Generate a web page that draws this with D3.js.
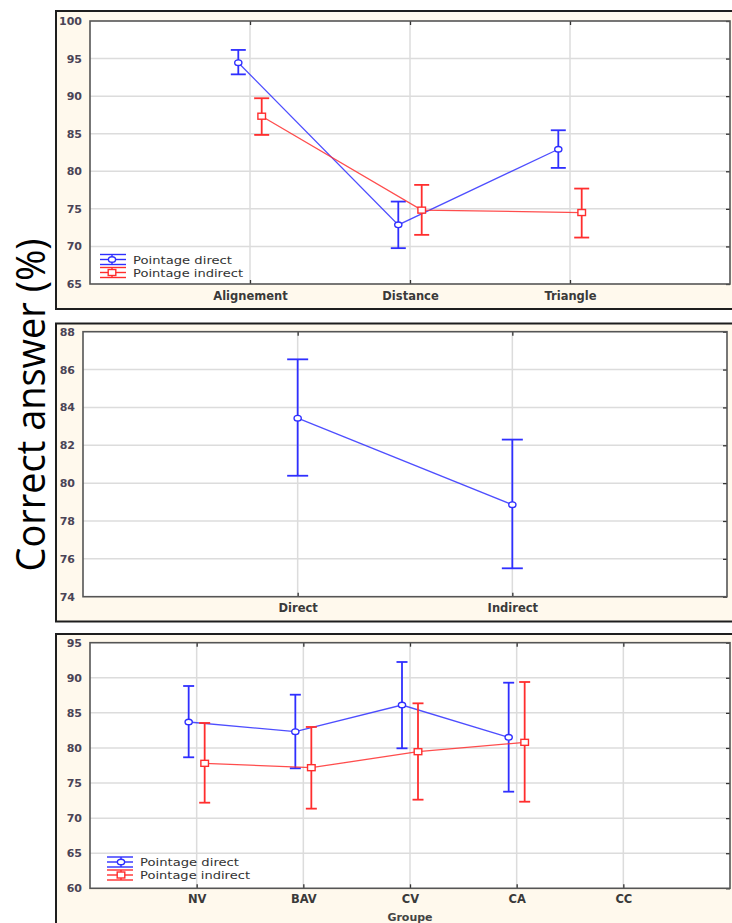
<!DOCTYPE html>
<html><head><meta charset="utf-8">
<script src="https://cdn.jsdelivr.net/npm/d3@7/dist/d3.min.js"></script>
<style>
html,body{margin:0;padding:0;background:#fff;overflow:hidden;}
svg{display:block;}
</style></head>
<body>
<svg id="chart" width="732" height="923"></svg>
<script>
// ---- data ----
const conditions = ["Alignement", "Distance", "Triangle"];
const condDirectMean = [94.45, 72.87, 82.93];
const condDirectLow  = [92.9, 69.77, 80.45];
const condDirectHigh = [96.15, 75.97, 85.46];
const condIndirectMean = [87.33, 74.83, 74.51];
const condIndirectLow  = [84.84, 71.54, 71.18];
const condIndirectHigh = [89.72, 78.19, 77.7];
const condTicks = [65, 70, 75, 80, 85, 90, 95, 100];

const pointing = ["Direct", "Indirect"];
const pointMean = [83.43, 78.86];
const pointLow  = [80.39, 75.5];
const pointHigh = [86.54, 82.3];
const pointTicks = [74, 76, 78, 80, 82, 84, 86, 88];

const groups = ["NV", "BAV", "CV", "CA", "CC"];
const groupDirectMean = [83.7, 82.32, 86.12, 81.51];
const groupDirectLow  = [78.67, 77.1, 79.95, 73.77];
const groupDirectHigh = [88.83, 87.59, 92.25, 89.3];
const groupIndirectMean = [77.81, 77.19, 79.47, 80.8];
const groupIndirectLow  = [72.2, 71.35, 72.63, 72.34];
const groupIndirectHigh = [83.56, 82.99, 86.36, 89.4];
const groupTicks = [60, 65, 70, 75, 80, 85, 90, 95];

const seriesNames = ["Pointage direct", "Pointage indirect"];
const yLabel = "Correct answer (%)";
const xTitle3 = "Groupe";

// ---- style ----
const BLUE = "#2f2fff", RED = "#ff2e2e";
const CREAM = "#fff9ed";
const TICKCOL = "#4a4456";
const svg = d3.select("#chart");

function series(cats, mean, low, high, color, marker, offset) {
  return {cats, mean, low, high, color, marker, offset};
}

function panel(o) {
  // outer frame
  svg.append("rect").attr("x", 56).attr("y", o.frameTop).attr("width", 700).attr("height", o.frameBottom - o.frameTop)
    .attr("fill", CREAM).attr("stroke", "#1e1e1e").attr("stroke-width", 2);
  const x = d3.scalePoint().domain(o.cats).range([o.left, o.right]).padding(1);
  const y = d3.scaleLinear().domain(d3.extent(o.ticks)).range([o.bottom, o.top]);
  const g = svg.append("g");
  g.append("rect").attr("x", o.left).attr("y", o.top).attr("width", o.right - o.left).attr("height", o.bottom - o.top)
    .attr("fill", "#fff");
  // grid
  g.selectAll(".gy").data(o.ticks.slice(1, -1)).join("line")
    .attr("x1", o.left).attr("x2", o.right).attr("y1", d => y(d)).attr("y2", d => y(d))
    .attr("stroke", "#dcdcdc").attr("stroke-width", 1.5);
  g.selectAll(".gx").data(o.cats).join("line")
    .attr("x1", d => x(d)).attr("x2", d => x(d)).attr("y1", o.top).attr("y2", o.bottom)
    .attr("stroke", "#dcdcdc").attr("stroke-width", 1.5);
  // axes via d3 axis (ticks inward)
  const gb = g.append("g").attr("transform", `translate(0,${o.bottom})`).call(d3.axisTop(x).tickSize(4).tickFormat(""));
  const gt = g.append("g").attr("transform", `translate(0,${o.top})`).call(d3.axisBottom(x).tickSize(4).tickFormat(""));
  const gr = g.append("g").attr("transform", `translate(${o.right},0)`).call(d3.axisLeft(y).tickValues(o.ticks).tickSize(4).tickFormat(""));
  [gb, gt, gr].forEach(a => { a.select(".domain").remove(); a.selectAll("line").attr("stroke", "#333").attr("stroke-width", 1.3); });
  // y tick labels
  const gl = g.append("g").attr("transform", `translate(${o.labelRight},0)`)
    .call(d3.axisLeft(y).tickValues(o.ticks).tickSize(0).tickPadding(0));
  gl.select(".domain").remove();
  gl.selectAll("text").attr("font-family", "DejaVu Sans").attr("font-weight", "bold").attr("font-size", 11)
    .attr("fill", TICKCOL);
  // x tick labels
  const gxl = g.append("g").attr("transform", `translate(0,${o.xLabelY})`)
    .call(d3.axisBottom(x).tickSize(0).tickPadding(0));
  gxl.select(".domain").remove();
  gxl.selectAll("text").attr("dy", 0).attr("font-family", "DejaVu Sans").attr("font-weight", "bold").attr("font-size", 11.5)
    .attr("fill", "#3a3a3a");
  // plot border
  g.append("rect").attr("x", o.left).attr("y", o.top).attr("width", o.right - o.left).attr("height", o.bottom - o.top)
    .attr("fill", "none").attr("stroke", "#555").attr("stroke-width", 1.6);

  o.series.forEach(s => {
    const pts = s.mean.map((m, i) => ({c: s.cats[i], m, lo: s.low[i], hi: s.high[i]}));
    const px = d => x(d.c) + s.offset;
    const line = d3.line().x(px).y(d => y(d.m));
    g.append("path").datum(pts).attr("d", line).attr("fill", "none").attr("stroke", s.color).attr("stroke-width", 1.3).attr("opacity", 0.85);
    const eb = g.append("g").attr("stroke", s.color).attr("stroke-width", 1.8);
    eb.selectAll(".v").data(pts).join("line").attr("x1", px).attr("x2", px).attr("y1", d => y(d.lo)).attr("y2", d => y(d.hi));
    eb.selectAll(".t").data(pts).join("line").attr("x1", d => px(d) - o.cap).attr("x2", d => px(d) + o.cap).attr("y1", d => y(d.hi)).attr("y2", d => y(d.hi));
    eb.selectAll(".b").data(pts).join("line").attr("x1", d => px(d) - o.cap).attr("x2", d => px(d) + o.cap).attr("y1", d => y(d.lo)).attr("y2", d => y(d.lo));
    drawMarkers(g, pts.map(d => [px(d), y(d.m)]), s);
  });

  if (o.legend) {
    const L = o.legend;
    o.series.forEach((s, i) => {
      const cy = L.y + i * 13;
      const lg = g.append("g").attr("stroke", s.color).attr("stroke-width", 1.4);
      [-5, 0, 5].forEach(dy => lg.append("line").attr("x1", L.x).attr("x2", L.x + 26).attr("y1", cy + dy).attr("y2", cy + dy));
      lg.append("line").attr("x1", L.x + L.mx).attr("x2", L.x + L.mx).attr("y1", cy - 5).attr("y2", cy + 5);
      drawMarkers(g, [[L.x + L.mx, cy]], s);
      g.append("text").attr("x", L.x + 33).attr("y", cy + 4).text(seriesNames[i])
        .attr("font-family", "DejaVu Sans").attr("font-size", 11).attr("fill", "#333")
        .attr("textLength", i === 0 ? 99 : 110).attr("lengthAdjust", "spacingAndGlyphs");
    });
  }
  if (o.xTitle) {
    g.append("text").attr("x", (o.left + o.right) / 2).attr("y", o.xTitleY).attr("text-anchor", "middle")
      .text(o.xTitle).attr("font-family", "DejaVu Sans").attr("font-weight", "bold").attr("font-size", 11).attr("fill", "#444");
  }
}

function drawMarkers(g, pts, s) {
  if (s.marker === "circle") {
    g.selectAll(null).data(pts).join("ellipse").attr("cx", d => d[0]).attr("cy", d => d[1]).attr("rx", 3.6).attr("ry", 2.8)
      .attr("fill", "#fff").attr("stroke", s.color).attr("stroke-width", 1.4);
  } else {
    g.selectAll(null).data(pts).join("rect").attr("x", d => d[0] - 3.8).attr("y", d => d[1] - 3).attr("width", 7.6).attr("height", 6)
      .attr("fill", "#fff").attr("stroke", s.color).attr("stroke-width", 1.4);
  }
}

// Panel 1
panel({
  frameTop: 11, frameBottom: 309, left: 90, right: 730, top: 21, bottom: 284,
  cats: conditions, ticks: condTicks, labelRight: 82, xLabelY: 300, cap: 7.5,
  series: [
    series(conditions, condDirectMean, condDirectLow, condDirectHigh, BLUE, "circle", -11.7),
    series(conditions, condIndirectMean, condIndirectLow, condIndirectHigh, RED, "square", 11.7)
  ],
  legend: {x: 100, y: 259.5, mx: 12}
});

// Panel 2
panel({
  frameTop: 323.5, frameBottom: 621.5, left: 83, right: 727, top: 331.7, bottom: 596.7,
  cats: pointing, ticks: pointTicks, labelRight: 75, xLabelY: 612, cap: 10.5,
  series: [series(pointing, pointMean, pointLow, pointHigh, BLUE, "circle", 0)]
});

// Panel 3
panel({
  frameTop: 634, frameBottom: 950, left: 90, right: 730, top: 642.7, bottom: 888.3,
  cats: groups, ticks: groupTicks, labelRight: 82, xLabelY: 903, cap: 5.5,
  series: [
    series(groups.slice(0, 4), groupDirectMean, groupDirectLow, groupDirectHigh, BLUE, "circle", -8),
    series(groups.slice(0, 4), groupIndirectMean, groupIndirectLow, groupIndirectHigh, RED, "square", 8)
  ],
  legend: {x: 107, y: 862, mx: 14}, xTitle: xTitle3, xTitleY: 921
});

// Shared y label
svg.append("text").attr("transform", "translate(45,405) rotate(-90)").attr("text-anchor", "middle")
  .attr("font-family", "Open Sans").attr("font-size", 40).attr("fill", "#000")
  .attr("textLength", 333).attr("lengthAdjust", "spacingAndGlyphs").text(yLabel);
</script>
</body></html>
